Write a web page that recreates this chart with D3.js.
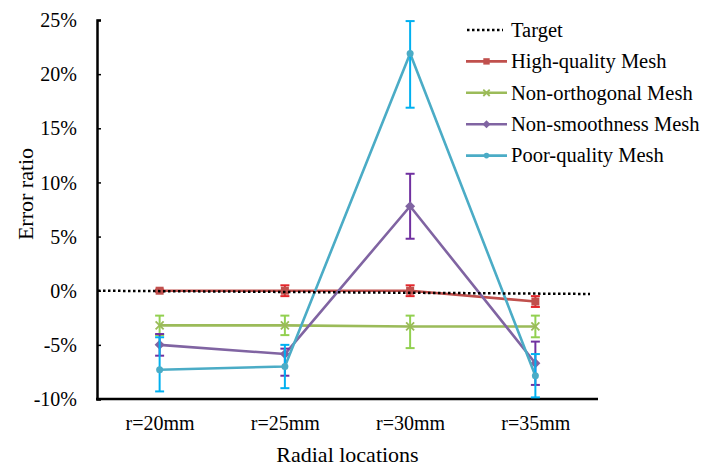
<!DOCTYPE html>
<html><head><meta charset="utf-8">
<script src="https://cdn.jsdelivr.net/npm/d3@7"></script>
<style>body{margin:0;background:#fff}svg{display:block}text{font-family:"Liberation Serif","Times New Roman",serif;fill:#000}</style>
</head><body><svg id="c" width="702" height="468"></svg>
<script>
const categories = ["r=20mm","r=25mm","r=30mm","r=35mm"];
const yTicks = [-10,-5,0,5,10,15,20,25];
const targetValues = [0.0, -0.3]; // start and end of target line (%)
const highVals = [0.0, 0.0, 0.0, -1.0];
const highErrUp = [0.1, 0.5, 0.5, 0.5];
const highErrDn = [0.1, 0.5, 0.5, 0.5];
const orthVals = [-3.2, -3.2, -3.3, -3.3];
const orthErrUp = [0.9, 0.9, 1.0, 1.0];
const orthErrDn = [0.9, 0.9, 2.0, 1.0];
const smoothVals = [-5.0, -5.85, 7.8, -6.7];
const smoothErrUp = [1.0, 0.5, 3.0, 2.0];
const smoothErrDn = [1.0, 2.0, 3.0, 2.0];
const poorVals = [-7.3, -7.0, 21.9, -7.85];
const poorErrUp = [3.0, 2.0, 3.0, 2.0];
const poorErrDn = [2.0, 2.0, 5.0, 2.0];
const seriesNames = ["High-quality Mesh","Non-orthogonal Mesh","Non-smoothness Mesh","Poor-quality Mesh"];

const series = [
  {name:seriesNames[0], v:highVals, up:highErrUp, dn:highErrDn, line:"#c0504d", err:"#e3262b", marker:"square"},
  {name:seriesNames[1], v:orthVals, up:orthErrUp, dn:orthErrDn, line:"#9bbb59", err:"#92d050", marker:"x"},
  {name:seriesNames[2], v:smoothVals, up:smoothErrUp, dn:smoothErrDn, line:"#8064a2", err:"#7030a0", marker:"diamond"},
  {name:seriesNames[3], v:poorVals, up:poorErrUp, dn:poorErrDn, line:"#4bacc6", err:"#00b0f0", marker:"circle"}
];

const svg = d3.select("#c");
const L=97, R=598, T=20, B=399;
const x = d3.scalePoint().domain(categories).range([L,R]).padding(0.5);
const y = d3.scaleLinear().domain([-10,25]).range([B,T]);

// axes
const yAxis = d3.axisLeft(y).tickValues(yTicks).tickSize(-4).tickPadding(20).tickFormat(d=>d+"%");
const gy = svg.append("g").attr("transform",`translate(${L},0)`).call(yAxis);
gy.attr("font-family",null);
gy.select(".domain").attr("stroke","#000").attr("stroke-width",2.5);
gy.selectAll(".tick line").attr("stroke","#000").attr("stroke-width",1.5);
gy.selectAll(".tick text").style("font-size","20px").attr("dy","0.33em");

const xAxis = d3.axisBottom(x).tickSize(0).tickPadding(17).tickSizeOuter(0);
const gx = svg.append("g").attr("transform",`translate(0,${B})`).call(xAxis);
gx.attr("font-family",null);
gx.select(".domain").attr("stroke","#000").attr("stroke-width",2.5).attr("d",`M${L-1},0H${R}`);
gx.selectAll(".tick text").style("font-size","20px").attr("dy","0.71em");

svg.append("text").attr("x",(L+R)/2).attr("y",462).attr("text-anchor","middle").style("font-size","22px").text("Radial locations");
svg.append("text").attr("transform","translate(33,194) rotate(-90)").attr("text-anchor","middle").style("font-size","22px").text("Error ratio");

const line = d3.line().x((d,i)=>x(categories[i])).y(d=>y(d));

function marker(g, type, cx, cy, color, k){
  k = k||1;
  if(type==="square") g.append("rect").attr("x",cx-4*k).attr("y",cy-4*k).attr("width",8*k).attr("height",8*k).attr("fill",color);
  else if(type==="circle") g.append("circle").attr("cx",cx).attr("cy",cy).attr("r",3.5*k).attr("fill",color);
  else if(type==="diamond") g.append("path").attr("d",`M${cx},${cy-5*k}L${cx+5*k},${cy}L${cx},${cy+5*k}L${cx-5*k},${cy}Z`).attr("fill",color);
  else if(type==="x") g.append("path").attr("d",`M${cx-4*k},${cy-4*k}L${cx+4*k},${cy+4*k}M${cx-4*k},${cy+4*k}L${cx+4*k},${cy-4*k}`).attr("stroke",color).attr("stroke-width",1.8);
}

series.forEach(s=>{
  const g = svg.append("g");
  g.append("path").datum(s.v).attr("d",line).attr("fill","none").attr("stroke",s.line).attr("stroke-width",2.6).attr("stroke-linejoin","round");
  s.v.forEach((v,i)=>{
    const cx = x(categories[i]);
    const y1 = y(v+s.up[i]), y2 = y(v-s.dn[i]);
    g.append("line").attr("x1",cx).attr("x2",cx).attr("y1",y1).attr("y2",y2).attr("stroke",s.err).attr("stroke-width",2);
    [y1,y2].forEach(yy=>g.append("line").attr("x1",cx-4.5).attr("x2",cx+4.5).attr("y1",yy).attr("y2",yy).attr("stroke",s.err).attr("stroke-width",2));
    marker(g, s.marker, cx, y(v), s.line);
  });
});

// target dotted line
svg.append("line").attr("x1",L+1).attr("x2",590).attr("y1",y(targetValues[0])).attr("y2",y(targetValues[1]))
  .attr("stroke","#000").attr("stroke-width",2.5).attr("stroke-dasharray","2.5,2.5");

// legend
const leg = svg.append("g");
const legX1=466, legX2=507, legTx=511, legY0=30, legDy=31.4;
leg.append("line").attr("x1",legX1+1).attr("x2",legX2-4).attr("y1",legY0).attr("y2",legY0).attr("stroke","#000").attr("stroke-width",2.5).attr("stroke-dasharray","2.5,2.5");
leg.append("text").attr("x",legTx).attr("y",legY0).attr("dy","0.33em").style("font-size","20.5px").text("Target");
series.forEach((s,i)=>{
  const yy = legY0+legDy*(i+1);
  leg.append("line").attr("x1",legX1).attr("x2",legX2).attr("y1",yy).attr("y2",yy).attr("stroke",s.line).attr("stroke-width",2.6);
  marker(leg, s.marker, (legX1+legX2)/2, yy, s.line, 0.8);
  leg.append("text").attr("x",legTx).attr("y",yy).attr("dy","0.33em").style("font-size","20.5px").text(s.name);
});
</script></body></html>
